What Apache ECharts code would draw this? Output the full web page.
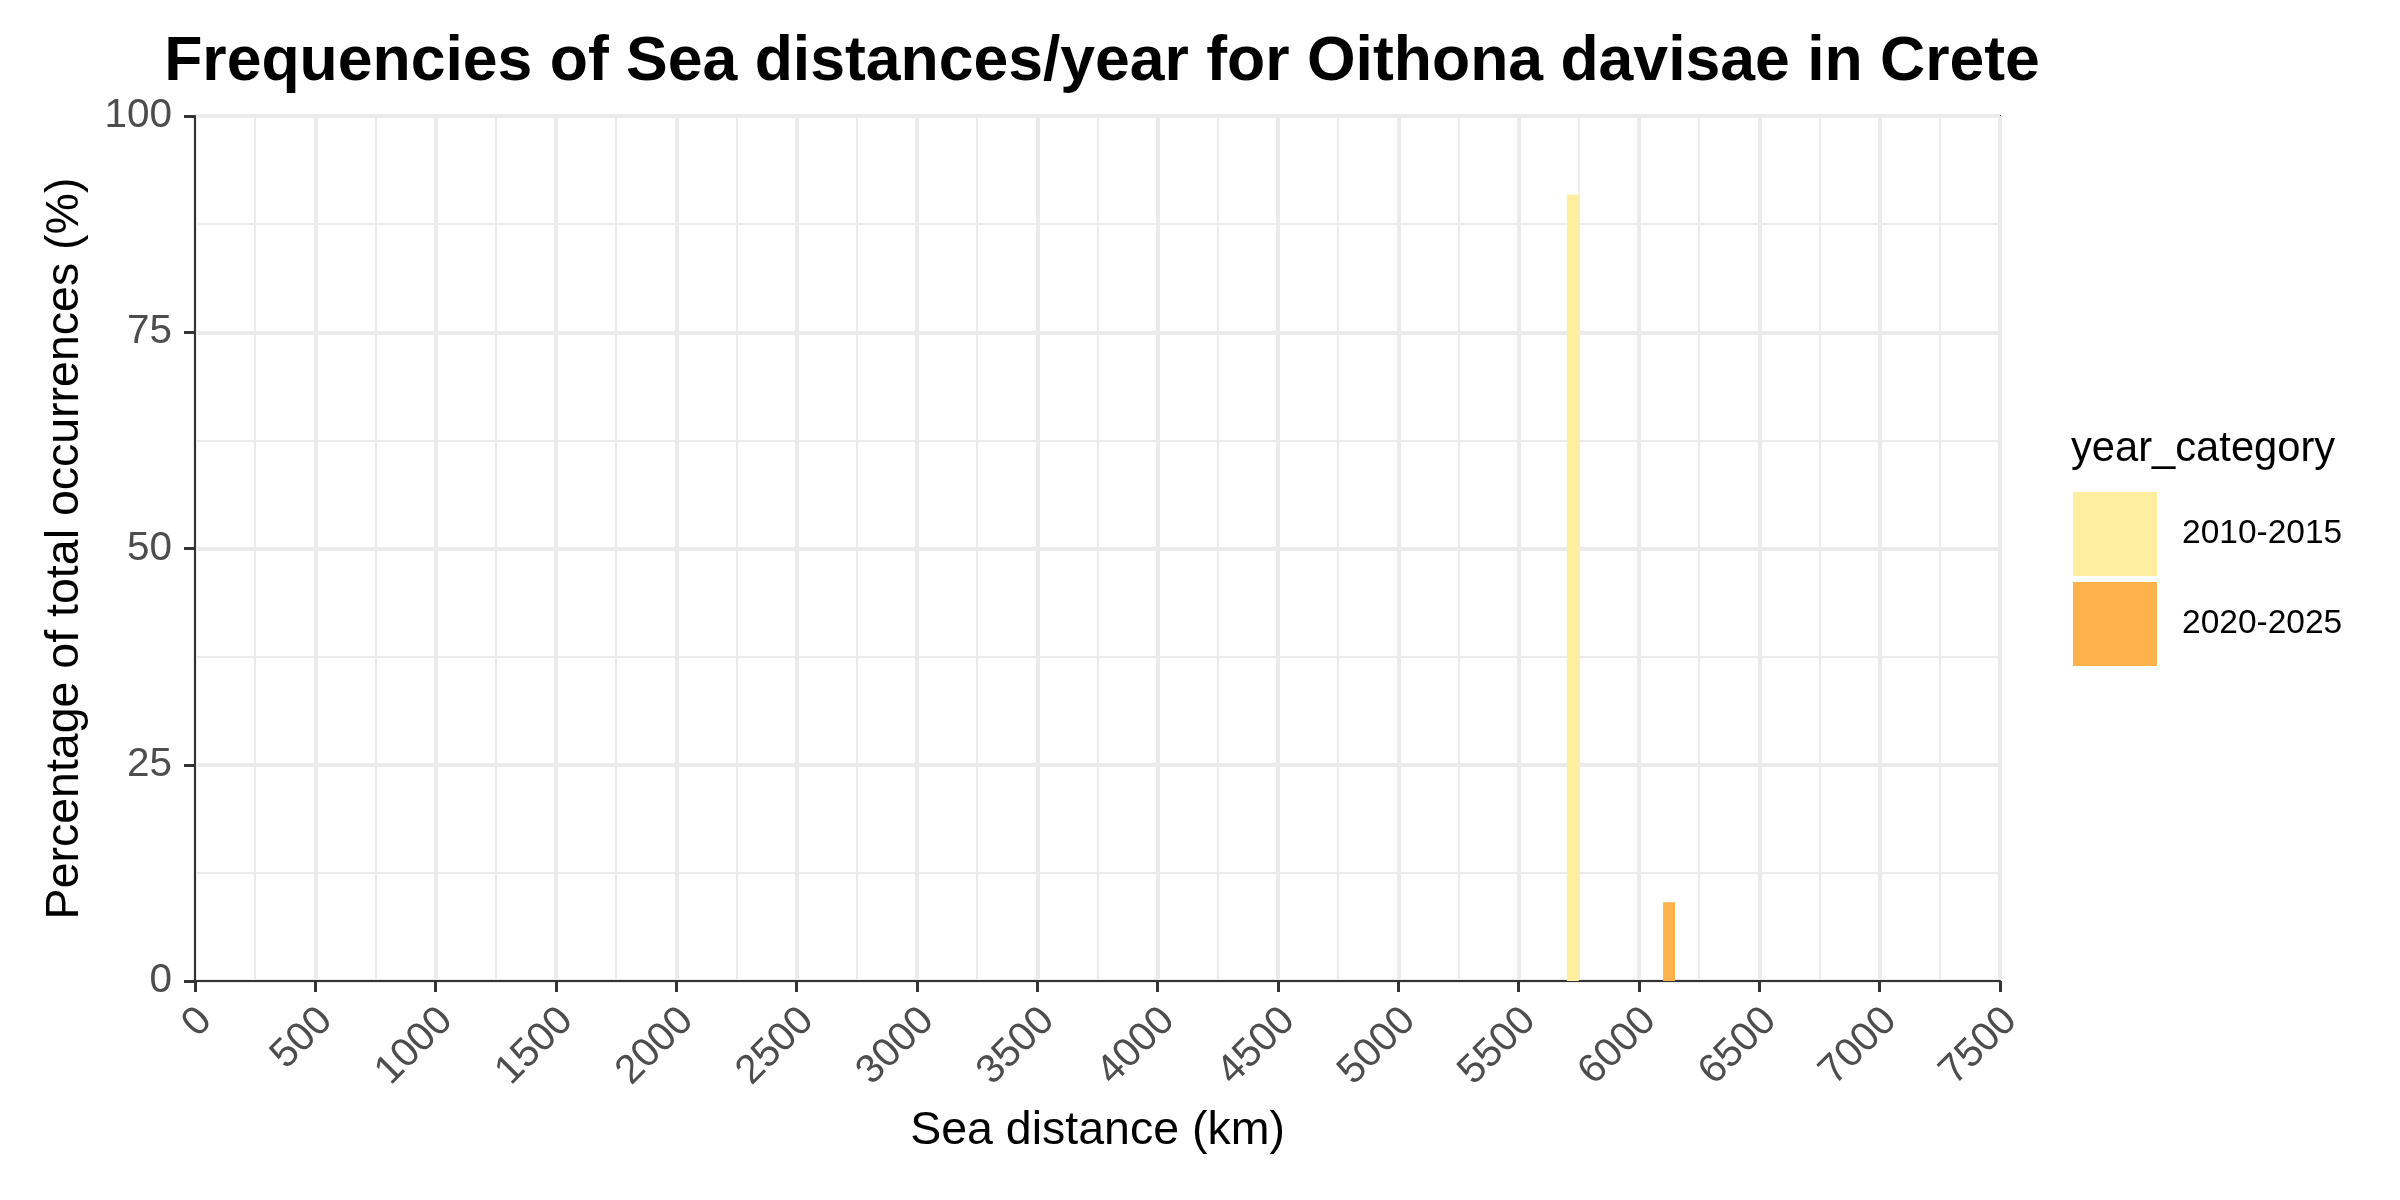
<!DOCTYPE html>
<html>
<head>
<meta charset="utf-8">
<script src="https://cdn.jsdelivr.net/npm/echarts@6/dist/echarts.min.js"></script>
<style>
html,body{margin:0;padding:0;background:#fff;}
#c{width:2400px;height:1200px;}
</style>
</head>
<body>
<div id="c"></div>
<script>
// Data (histogram, binwidth 50 km)
var categories = ['2010-2015', '2020-2025'];
var binStart2010 = [5700];
var binEnd2010 = [5750];
var pct2010 = [90.91];
var binStart2020 = [6100];
var binEnd2020 = [6150];
var pct2020 = [9.09];
var xTicks = [0, 500, 1000, 1500, 2000, 2500, 3000, 3500, 4000, 4500, 5000, 5500, 6000, 6500, 7000, 7500];
var yTicks = [0, 25, 50, 75, 100];
var colors = ['#FFEDA0', '#FEB24C'];

var FONT = '"Liberation Sans", Arial, sans-serif';

function makeData(s, e, v) {
  return s.map(function (d, i) { return [s[i], e[i], v[i]]; });
}

function renderBar(params, api) {
  var p0 = api.coord([api.value(0), 0]);
  var p1 = api.coord([api.value(1), api.value(2)]);
  return {
    type: 'rect',
    shape: { x: p0[0], y: p1[1], width: p1[0] - p0[0], height: p0[1] - p1[1] },
    style: { fill: api.visual('color') }
  };
}

var chart = echarts.init(document.getElementById('c'), null, { renderer: 'canvas' });
chart.setOption({
  backgroundColor: '#ffffff',
  animation: false,
  title: {
    text: 'Frequencies of Sea distances/year for Oithona davisae in Crete',
    left: 1097, top: 26, textAlign: 'center',
    textStyle: { fontFamily: FONT, fontSize: 62.5, fontWeight: 'bold', color: '#000' }
  },
  grid: {
    left: 195, right: 400, top: 116, bottom: 219,
    show: true, borderColor: '#333333', borderWidth: 2, backgroundColor: '#ffffff',
    containLabel: false
  },
  legend: {
    orient: 'vertical', left: 2073, top: 492, padding: 0,
    itemWidth: 84, itemHeight: 84, itemGap: 6,
    icon: 'rect',
    data: categories,
    textStyle: { fontFamily: FONT, fontSize: 33.5, color: '#000', padding: [0, 0, 0, 20] },
    selectedMode: false
  },
  graphic: [{
    type: 'text', left: 2071, top: 429,
    style: { text: 'year_category', font: '41.7px ' + FONT, fill: '#000' }
  }],
  xAxis: {
    type: 'value', min: xTicks[0], max: xTicks[xTicks.length - 1], interval: 500,
    name: 'Sea distance (km)', nameLocation: 'middle', nameGap: 127,
    nameTextStyle: { fontFamily: FONT, fontSize: 46.5, color: '#000' },
    axisLine: { show: true, lineStyle: { color: '#333333', width: 2 } },
    axisTick: { show: true, length: 11, lineStyle: { color: '#333333', width: 3 } },
    axisLabel: {
      rotate: 45, margin: 44, fontFamily: FONT, fontSize: 40.5, color: '#4d4d4d',
      padding: [0, -15, 0, 0],
      showMinLabel: true, showMaxLabel: true,
      formatter: function (v) { return String(v); }
    },
    splitLine: { show: true, lineStyle: { color: '#ebebeb', width: 4 } },
    minorTick: { show: false, splitNumber: 2 },
    minorSplitLine: { show: true, lineStyle: { color: '#ebebeb', width: 2 } }
  },
  yAxis: {
    type: 'value', min: yTicks[0], max: yTicks[yTicks.length - 1], interval: 25,
    name: 'Percentage of total occurrences (%)', nameLocation: 'middle', nameGap: 106,
    nameTextStyle: { fontFamily: FONT, fontSize: 46.5, color: '#000' },
    axisLine: { show: true, lineStyle: { color: '#333333', width: 2 } },
    axisTick: { show: true, length: 11, lineStyle: { color: '#333333', width: 3 } },
    axisLabel: { margin: 23, fontFamily: FONT, fontSize: 40.5, color: '#4d4d4d' },
    splitLine: { show: true, lineStyle: { color: '#ebebeb', width: 4 } },
    minorTick: { show: false, splitNumber: 2 },
    minorSplitLine: { show: true, lineStyle: { color: '#ebebeb', width: 2 } }
  },
  series: [{
    name: categories[0], type: 'custom', renderItem: renderBar,
    itemStyle: { color: colors[0] },
    encode: { x: [0, 1], y: 2 },
    data: makeData(binStart2010, binEnd2010, pct2010)
  }, {
    name: categories[1], type: 'custom', renderItem: renderBar,
    itemStyle: { color: colors[1] },
    encode: { x: [0, 1], y: 2 },
    data: makeData(binStart2020, binEnd2020, pct2020)
  }]
});
</script>
</body>
</html>
